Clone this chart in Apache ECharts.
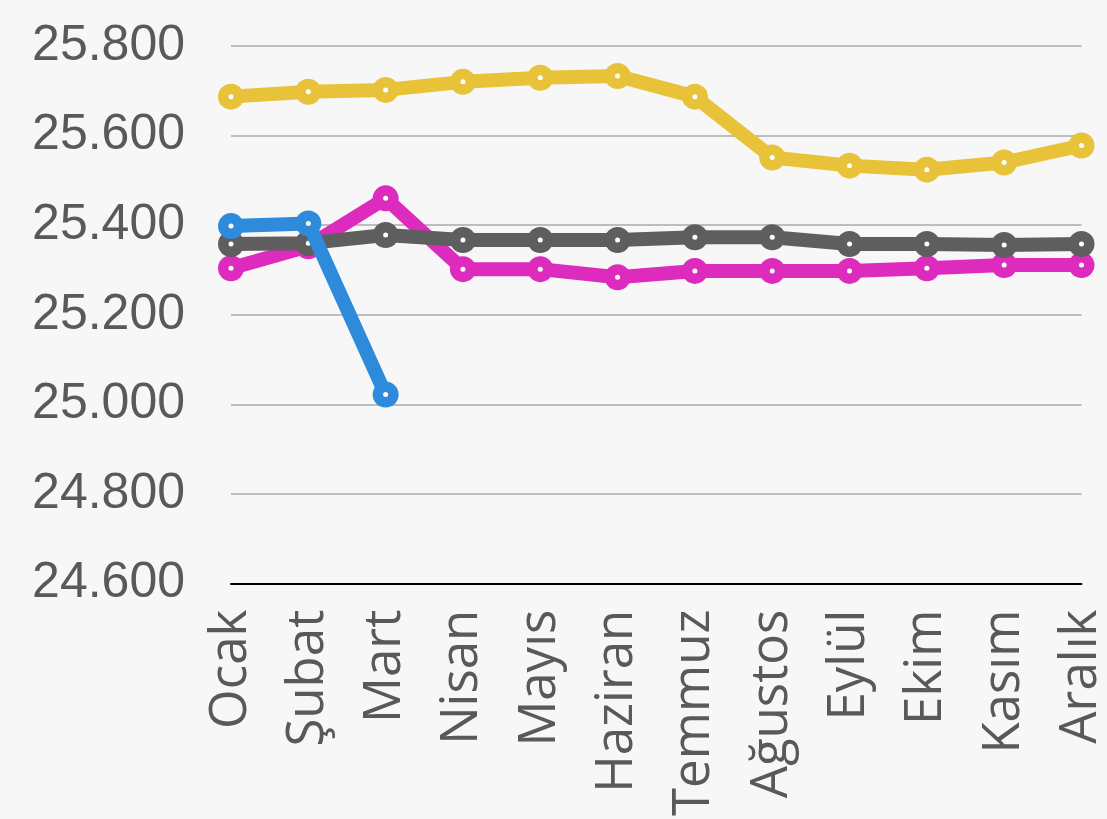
<!DOCTYPE html>
<html><head><meta charset="utf-8">
<script src="https://cdn.jsdelivr.net/npm/echarts@6/dist/echarts.min.js"></script>
<style>html,body{margin:0;padding:0;background:#f7f7f8;}#c{width:1107px;height:819px;}</style>
</head><body><div id="c"></div>
<script>
const months = ['Ocak','Şubat','Mart','Nisan','Mayıs','Haziran','Temmuz','Ağustos','Eylül','Ekim','Kasım','Aralık'];
const yellowSeries = [25687,25698,25702,25720,25729,25733,25687,25551,25533,25524,25540,25578];
const magentaSeries = [25304,25353,25460,25302,25302,25284,25298,25298,25298,25304,25311,25311];
const graySeries = [25358,25360,25378,25367,25367,25367,25373,25373,25358,25358,25356,25358];
const blueSeries = [25398,25404,25022];
const yTicks = {min:24600, max:25800, interval:200};

function mk(data, color, z){
  return [
    {type:'line', data:data, z:z, symbol:'circle', symbolSize:26,
      lineStyle:{color:color, width:14},
      itemStyle:{color:color},
      emphasis:{disabled:true}},
    {type:'line', data:data, z:z, zlevel:0, symbol:'circle', symbolSize:5,
      lineStyle:{width:0, opacity:0},
      itemStyle:{color:'#ffffff'},
      emphasis:{disabled:true}}
  ];
}
const chart = echarts.init(document.getElementById('c'));
chart.setOption({
  backgroundColor:'#f7f7f8',
  animation:false,
  grid:{left:231, right:25, top:46, bottom:233, containLabel:false},
  xAxis:{type:'category', data:months, boundaryGap:false,
    axisLine:{lineStyle:{color:'#000', width:2}}, axisTick:{show:false},
    axisLabel:{rotate:90, margin:26, fontSize:51, fontFamily:'Open Sans', color:'#595959', interval:0}},
  yAxis:{type:'value', min:yTicks.min, max:yTicks.max, interval:yTicks.interval,
    axisLine:{show:false}, axisTick:{show:false},
    splitLine:{lineStyle:{color:'#bdbdbd', width:2}},
    axisLabel:{margin:46, fontSize:50, fontFamily:'Liberation Sans', color:'#595959',
      formatter:v=>{const s=String(v);return s.slice(0,2)+'.'+s.slice(2);}}},
  series:[].concat(
    mk(yellowSeries,'#e8c33a',2),
    mk(magentaSeries,'#dd2bbd',3),
    mk(graySeries,'#5e5e5e',4),
    mk(blueSeries,'#2e8bdc',5)
  )
});
</script></body></html>
